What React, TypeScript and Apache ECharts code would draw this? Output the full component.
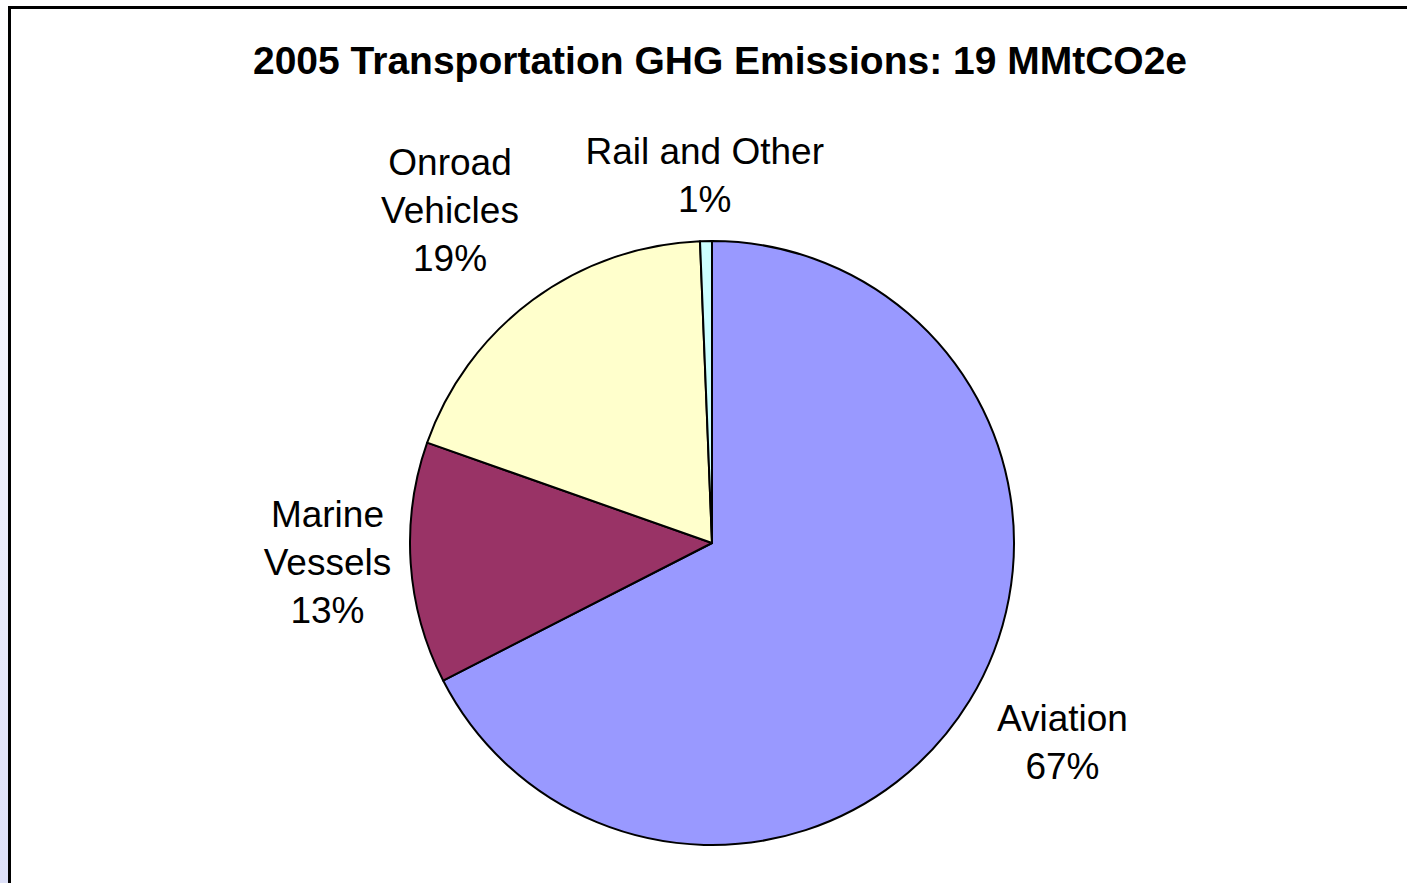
import React, { useEffect, useRef } from "react";
import * as echarts from "echarts";

const categories = ["Aviation", "Marine\nVessels", "Onroad\nVehicles", "Rail and Other"];
const values = [12.8, 2.45, 3.6, 0.12];
const colors = ["#9999FF", "#993366", "#FFFFCC", "#CCFFFF"];
const titleText = "2005 Transportation GHG Emissions: 19 MMtCO2e";
// small label nudges (px) to match the original placement
const labelNudges = [
  [11, -8],
  [0, -6],
  [-15, 2],
  [0, 0],
];

const FONT = "Arial, 'Liberation Sans', sans-serif";
const CX = 712;
const CY = 543;
const R = 302;
const GAP = 15;

export default function App() {
  const ref = useRef<HTMLDivElement>(null);
  useEffect(() => {
    if (!ref.current) return;
    const chart = echarts.init(ref.current, undefined, { renderer: "svg" });
    const total = values.reduce((a, b) => a + b, 0);
    const dirs = values.map((v, i) => {
      const before = values.slice(0, i).reduce((a, b) => a + b, 0);
      const mid = ((before + v / 2) / total) * Math.PI * 2;
      return [Math.sin(mid), -Math.cos(mid)];
    });
    chart.setOption({
      animation: false,
      backgroundColor: "#ffffff",
      title: {
        text: titleText,
        left: 715,
        textAlign: "center",
        top: 36,
        textStyle: { fontFamily: FONT, fontSize: 39, fontWeight: "bold", color: "#000" },
      },
      graphic: [
        {
          type: "rect",
          shape: { x: 0, y: 0, width: 8, height: 883 },
          style: {
            fill: new echarts.graphic.LinearGradient(0, 0, 0, 1, [
              { offset: 0, color: "#ffffff" },
              { offset: 1, color: "#dde0f8" },
            ]),
          },
          silent: true,
        },
        {
          type: "line",
          shape: { x1: 9.5, y1: 6, x2: 9.5, y2: 883 },
          style: { stroke: "#000", lineWidth: 3 },
          silent: true,
        },
        {
          type: "line",
          shape: { x1: 8, y1: 7.5, x2: 1407, y2: 7.5 },
          style: { stroke: "#000", lineWidth: 3 },
          silent: true,
        },
      ],
      series: [
        {
          type: "pie",
          center: [CX, CY],
          radius: [0, R],
          startAngle: 90,
          clockwise: true,
          avoidLabelOverlap: false,
          silent: true,
          data: categories.map((c, i) => ({
            name: c,
            value: values[i],
            itemStyle: { color: colors[i] },
          })),
          itemStyle: { borderColor: "#000", borderWidth: 2 },
          label: {
            show: true,
            position: "outside",
            fontFamily: FONT,
            fontSize: 37,
            lineHeight: 48,
            color: "#000",
            align: "center",
            formatter: (p: any) => `${p.name}\n${Math.round(p.percent)}%`,
          },
          labelLine: { show: false },
          labelLayout: (params: any) => {
            const i = params.dataIndex;
            const [dx, dy] = dirs[i];
            const w = params.labelRect.width;
            const h = params.labelRect.height;
            const d = R + GAP + (Math.abs(dx) * w) / 2 + (Math.abs(dy) * h) / 2;
            return {
              x: CX + dx * d + labelNudges[i][0],
              y: CY + dy * d + labelNudges[i][1],
              align: "center",
              verticalAlign: "middle",
            };
          },
        },
      ],
    });
    return () => chart.dispose();
  }, []);
  return (
    <div
      ref={ref}
      style={{ position: "absolute", left: 0, top: 0, width: 1407, height: 883 }}
    />
  );
}
